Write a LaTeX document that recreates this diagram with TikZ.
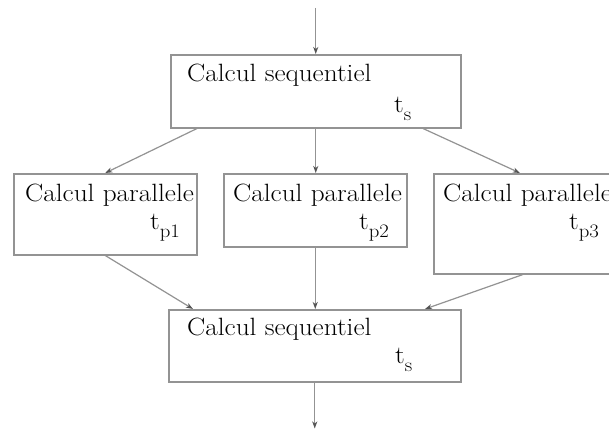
\documentclass[tikz,border=0pt]{standalone}
\usetikzlibrary{arrows.meta,calc}
\definecolor{linegray}{HTML}{939393}
\definecolor{tipgray}{HTML}{555555}
\newcommand\tsub[1]{t\raisebox{-8pt}{\fontsize{19}{19}\selectfont #1}}
\newcommand\wide[1]{\scalebox{1.09}[1]{#1}}
\begin{document}
\begin{tikzpicture}[x=1pt,y=-1pt,
  box/.style={draw=linegray, line width=1.5pt, inner sep=0pt, anchor=north west},
  lbl/.style={anchor=base west, inner sep=0pt, font=\fontsize{25}{25}\selectfont},
  conn/.style={draw=linegray, line width=1.2pt, -{Stealth[length=7pt,width=5pt,inset=2pt,color=tipgray]}}]
\useasboundingbox (0,0) rectangle (609,428);
\fill[white] (0,0) rectangle (609,428);
\clip (0,0) rectangle (609,428);
% boxes
\node[box, minimum width=290pt, minimum height=73pt] (s1) at (170,54) {};
\node[box, minimum width=183pt, minimum height=81pt] (p1) at (13,173) {};
\node[box, minimum width=183pt, minimum height=73pt] (p2) at (223,173) {};
\node[box, minimum width=210pt, minimum height=100pt] (p3) at (433,173) {};
\node[box, minimum width=292pt, minimum height=72pt] (s2) at (168,309) {};
% texts
\node[lbl] (s1a) at (187,81) {\wide{Calcul sequentiel}};
\node[lbl] (s1b) at (394,112) {\wide{\tsub{s}}};
\node[lbl] (p1a) at (25,201) {\wide{Calcul parallele}};
\node[lbl] (p1b) at (150,229) {\wide{\tsub{p1}}};
\node[lbl] (p2a) at (233,201) {\wide{Calcul parallele}};
\node[lbl] (p2b) at (359,229) {\wide{\tsub{p2}}};
\node[lbl] (p3a) at (443,201) {\wide{Calcul parallele}};
\node[lbl] (p3b) at (569,229) {\wide{\tsub{p3}}};
\node[lbl] (s2a) at (187,335) {\wide{Calcul sequentiel}};
\node[lbl] (s2b) at (395,363) {\wide{\tsub{s}}};
% connectors
\coordinate (in) at ($(s1.north)+(0,-46)$);
\coordinate (out) at ($(s2.south)+(0,46)$);
\draw[conn] (in) -- (s1.north);
\draw[conn] ($(s1.south west)+(27,0)$) -- (p1.north);
\draw[conn] (s1.south) -- (s1.south |- p2.north);
\draw[conn] ($(s1.south west)+(253,0)$) -- ($(p3.north west)+(87,0)$);
\draw[conn] (p1.south) -- ($(s2.north west)+(25,0)$);
\draw[conn] (p2.south) -- (p2.south |- s2.north);
\draw[conn] ($(p3.south west)+(90,0)$) -- ($(s2.north west)+(257,0)$);
\draw[conn] (s2.south) -- (out);
\end{tikzpicture}
\end{document}
